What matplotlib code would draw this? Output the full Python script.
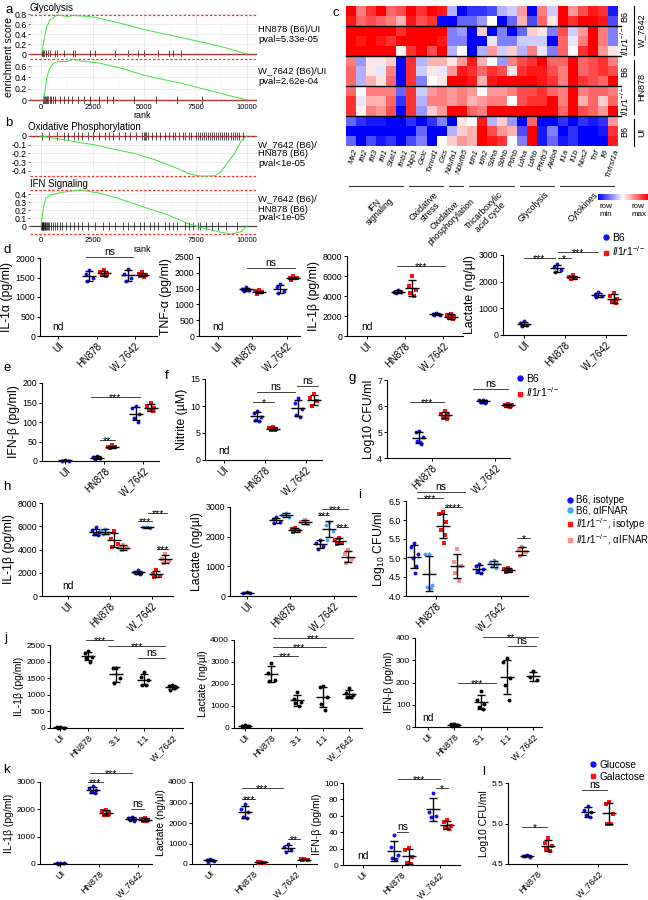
import numpy as np
import matplotlib
matplotlib.use('Agg')
import matplotlib.pyplot as plt
from matplotlib.colors import LinearSegmentedColormap
from matplotlib.lines import Line2D

plt.rcParams.update({
    'font.family': ['Liberation Sans', 'DejaVu Sans'],
    'mathtext.fontset': 'custom',
    'mathtext.rm': 'Liberation Sans',
    'mathtext.it': 'Liberation Sans:italic',
    'mathtext.bf': 'Liberation Sans:bold',
    'font.size': 6,
    'axes.linewidth': 0.8,
    'xtick.labelsize': 5.5, 'ytick.labelsize': 5.5,
    'xtick.major.size': 2, 'ytick.major.size': 2,
    'xtick.major.width': 0.7, 'ytick.major.width': 0.7,
    'xtick.major.pad': 1.5, 'ytick.major.pad': 1.5,
})

# ---------------- DATA ----------------
# GSEA running enrichment scores (a, b)
gly_hn_rank = [0, 40, 120, 200, 275, 350, 430, 600, 760, 1000, 1250, 1570, 2000, 2540, 3000, 4000, 5000, 6000, 7000, 8000, 9000, 10000]
gly_hn_es = [0, 0.02, 0.22, 0.40, 0.55, 0.60, 0.68, 0.72, 0.78, 0.77, 0.75, 0.77, 0.76, 0.74, 0.70, 0.60, 0.49, 0.40, 0.31, 0.22, 0.12, 0]
gly_hn_hits = [60, 120, 150, 250, 350, 450, 700, 800, 1100, 1550, 1650, 2400, 2600, 3600, 4200, 4700, 5000, 5700, 6200, 6400, 6800]
gly_w_rank = [0, 120, 200, 275, 350, 430, 600, 840, 1250, 1570, 1900, 2400, 2860, 4000, 4970, 6100, 7000, 7720, 9340, 10000]
gly_w_es = [0, 0.01, 0.18, 0.38, 0.48, 0.56, 0.65, 0.68, 0.68, 0.72, 0.69, 0.67, 0.65, 0.55, 0.44, 0.35, 0.28, 0.21, 0.06, 0]
gly_w_hits = [100, 150, 200, 250, 300, 350, 420, 500, 600, 700, 900, 1100, 1300, 1500, 1800, 2100, 2400, 2800, 3200, 3500, 4500, 5600, 6600, 7800]
oxp_rank = [0, 500, 1260, 2000, 2560, 3500, 4520, 5500, 6150, 6800, 7130, 7500, 7780, 8100, 8430, 8700, 9080, 9400, 9730, 10000]
oxp_es = [0, -0.02, -0.05, -0.08, -0.10, -0.15, -0.20, -0.27, -0.33, -0.39, -0.43, -0.45, -0.46, -0.46, -0.455, -0.42, -0.30, -0.20, -0.05, 0]
oxp_hits = [50, 400, 800, 1100, 1300, 1600, 1800, 2000, 2300, 2500, 2800, 3100, 3300, 3500, 3800, 4100, 4300, 4600, 4900, 5000,
            5050, 5100, 5200, 5400, 5600, 5800, 6000, 6200, 6400, 6500, 6700, 6900, 7000, 7200, 7300, 7500, 7600, 7700, 7800,
            7900, 8000, 8100, 8200, 8300, 8400, 8500, 8600, 8700, 8800, 8900, 9000, 9100, 9200, 9300, 9400, 9500, 9600, 9800]
ifn_rank = [0, 80, 160, 240, 480, 800, 1250, 1900, 2860, 3700, 4500, 5300, 6150, 7130, 7780, 8750, 9240, 9730, 10000]
ifn_es = [0, 0.16, 0.28, 0.35, 0.39, 0.41, 0.43, 0.45, 0.41, 0.35, 0.28, 0.21, 0.14, 0.03, -0.02, -0.08, -0.10, -0.07, 0]
ifn_hits = [20, 40, 60, 80, 100, 120, 150, 180, 200, 250, 300, 350, 400, 500, 600, 700, 800, 900, 1000, 1200, 1400, 1600,
            1800, 2000, 2300, 2600, 3000, 3300, 3600, 4000, 4200, 4500, 4800, 5000, 5300, 5500, 5700, 6000, 6200, 6400,
            6600, 7000, 7200, 7400, 7600, 7700, 8000, 8300, 8600, 9000, 9500]

# Heatmap (c)
genes = ['Mx2', 'Ifit2', 'Ifit3', 'Ifit1', 'Stat1', 'Ifnb1', 'Nqo1', 'Gclc', 'Txnrd1', 'Gss', 'Ndufa1', 'Ndufb5',
         'Idh1', 'Idh2', 'Sdha', 'Sdhb', 'Pdhb', 'Ldha', 'Ldhb', 'Pfkfb3', 'Aldoa', 'Il1a', 'Il1b', 'Nos2', 'Tnf', 'Il6', 'Tnfrsf1a']
gene_groups = ['IFN\nsignaling', 'Oxidative\nstress', 'Oxidative\nphosphorylation', 'Tricarboxylic\nacid cycle', 'Glycolysis', 'Cytokines']
gene_group_sizes = [6, 4, 2, 5, 4, 6]
heat_w_b6 = [
    [1, .5, .8, 1, .6, .7, 1, .8, 1, .9, -.3, -1, -.8, -.8, -.7, -.3, -.2, .4, -1, .5, -.2, 1, .4, .7, .9, .8, -.9],
    [.9, .6, .7, .6, .5, .3, .9, .7, .8, -1, -1, -.6, -.6, -.4, 0, -1, -.6, .3, -.7, .6, .1, 1, .8, 1, 1, .9, -.7]]
heat_w_ko = [
    [1, 1, 1, 1, 1, .8, 1, 1, 1, 1, -.5, -.4, -1, .2, -1, -.5, -1, -.6, .2, .1, -.5, .7, -.2, .4, 1, .5, -.5],
    [1, .9, 1, .9, .8, 1, 1, 1, 1, .9, -.5, -.5, -1, -1, -.1, -.5, -.5, -.2, -.2, -.2, -1, .6, -.1, .5, 1, .5, -.5],
    [1, 1, 1, 1, 1, .05, .8, 1, .7, 1, -.3, 0, -1, -.3, .4, -.2, .2, -.3, .5, -.1, -.5, .6, 0, .8, 1, .4, .1]]
heat_hn_b6 = [
    [.5, -.4, .1, .1, .2, -1, .8, -.3, .3, .3, .1, .4, .9, .3, 0, -.4, .5, .7, .8, 1, .6, .6, 1, .6, .7, .8, .5],
    [.6, -.3, .1, -.1, .5, -1, .8, -.2, .1, -.1, .4, .9, .8, .6, .8, .7, .1, .8, .9, .9, .7, .5, 1, .6, .7, .8, .7],
    [.6, -.3, .3, .1, .6, -1, .8, -.5, 0, .1, 1, 1, .9, .3, .9, 1, 1, 1, 1, .9, .8, .5, 1, .8, .7, .6, 1]]
heat_hn_ko = [
    [.6, 0, .5, .5, .5, -.6, .8, -.2, .4, .5, .4, .5, .4, 0, .4, .4, .5, .7, .7, .8, .6, .5, 1, .5, .6, .6, .5],
    [.8, -.1, .3, .3, .6, -.8, .8, -.3, .5, .5, .4, .5, .3, .4, .5, .5, 0, .7, .8, .8, 1, .5, 1, .3, .6, .2, .6],
    [.8, .05, .5, .4, .7, -1, .8, -.4, .2, .4, 1, 1, .6, .5, 1, 1, 1, 1, 1, 1, 1, .6, 1, .7, .6, .4, 1]]
heat_ui_b6 = [
    [-.6, -.8, -.9, -.9, -1, -1, -.8, -1, -.8, -.5, -1, .1, 0, .9, -.3, .2, -.4, -1, .6, -1, -1, -.8, -1, -.8, -.9, -.8, .4],
    [-1, -1, -1, -1, -1, -1, -1, -.6, -1, -1, -.3, .2, .3, 1, .7, .4, .3, -.7, 1, -.9, -.5, -1, -.8, -1, -1, -.9, .8],
    [-.6, -1, -.7, -.9, -.8, -1, -.7, -.5, -1, 0, .2, .4, .3, 1, .9, .8, 0, -.5, 1, -.9, -.6, -.9, -.8, -1, -1, -1, .9]]

cats3 = ['UI', 'HN878', 'W_7642']
cats2 = ['HN878', 'W_7642']
cats5 = ['UI', 'HN878', '3:1', '1:1', 'W_7642']

# d
d_il1a_b6 = [None, [1700, 1600, 1500, 1400], [1720, 1600, 1500, 1400]]
d_il1a_ko = [None, [1680, 1650, 1600, 1560, 1540], [1640, 1600, 1570, 1550, 1520]]
d_tnf_b6 = [None, [1550, 1480, 1450, 1420], [1650, 1550, 1420, 1360]]
d_tnf_ko = [None, [1440, 1410, 1390, 1330], [1890, 1850, 1820, 1780]]
d_il1b_b6 = [None, [4600, 4450, 4400, 4300], [2300, 2200, 2150, 2100]]
d_il1b_ko = [None, [6000, 5000, 4600, 4300, 4000], [2200, 2100, 1950, 1800, 1700]]
d_lac_b6 = [[520, 450, 380, 350], [2650, 2550, 2450, 2350], [1600, 1500, 1450, 1420]]
d_lac_ko = [None, [2250, 2180, 2130, 2100], [1560, 1480, 1350, 1250, 1200]]
# e, f, g
e_ifn_b6 = [[3, 1, 0], [12, 10, 7, 5], [140, 135, 120, 110, 100]]
e_ifn_ko = [None, [40, 37, 35, 33], [150, 140, 135, 130, 128]]
f_nit_b6 = [None, [9.0, 8.7, 8.0, 7.5, 7.2], [11.5, 10.5, 9.5, 8.3, 8.0]]
f_nit_ko = [None, [6.2, 6.0, 5.8, 5.6, 5.5], [12.2, 11.5, 11.0, 10.0]]
g_cfu_b6 = [[5.05, 5.0, 4.8, 4.65, 4.55, 4.6], [6.25, 6.22, 6.18, 6.15, 6.12]]
g_cfu_ko = [[5.8, 5.7, 5.65, 5.55, 5.5], [6.08, 6.05, 6.03, 6.0, 5.95]]
# h, i
h_il1b_b6iso = [None, [5900, 5700, 5500, 5300, 5250], [2250, 2100, 2000, 1950, 1900]]
h_il1b_b6ifnar = [None, [5800, 5600, 5400, 5300], [5950, 5900, 5850]]
h_il1b_koiso = [None, [5600, 4900, 4500, 4200], [2200, 1900, 1750, 1600]]
h_il1b_koifnar = [None, [4400, 4200, 4100, 3950], [3600, 3200, 3000, 2800]]
h_lac_b6iso = [[120, 100, 90], [2650, 2600, 2500, 2450], [1900, 1800, 1700, 1600]]
h_lac_b6ifnar = [None, [2800, 2720, 2650], [2500, 2400, 2200, 1900]]
h_lac_koiso = [None, [2300, 2250, 2200, 2150], [1950, 1900, 1800, 1750]]
h_lac_koifnar = [None, [2550, 2480, 2420], [1550, 1400, 1250, 1100]]
i_b6iso = [[5.4, 5.3, 5.1, 5.0, 4.8, 4.6], [4.85, 4.8, 4.7, 4.65, 4.6]]
i_b6ifnar = [[5.1, 5.1, 4.3, 4.25, 4.2], [4.95, 4.9, 4.85, 4.8, 4.75]]
i_koiso = [[6.2, 6.15, 5.95, 5.75, 5.6, 5.4], [4.75, 4.7, 4.65, 4.62]]
i_koifnar = [[5.25, 4.9, 4.8, 4.6, 4.4], [5.3, 5.25, 5.15, 5.05]]
# j
j_il1b = [[30, 20, 10, 5], [2320, 2250, 2150, 2100, 2000], [1820, 1800, 1500, 1350], [1700, 1550, 1450, 1300, 1300], [1300, 1280, 1250, 1150, 1200]]
j_lac = [[120, 100, 80, 60], [2950, 2500, 2200, 2150], [1650, 1300, 1200, 1150, 1000], [1900, 1850, 1400, 1100, 800], [1800, 1600, 1500, 1400, 1400]]
j_ifn = [None, [15, 12, 8, 5, 10], [160, 120, 105, 90, 80], [310, 290, 220, 190, 120], [250, 225, 210]]
# k, l
k_il1b_glc = [[40, 30, 20, 10], [2850, 2780, 2700, 2650, 2600], [1720, 1680, 1650, 1620, 1580]]
k_il1b_gal = [None, [1980, 1950, 1850, 1800, 1780], [1700, 1660, 1620, 1580, 1560]]
k_lac_glc = [[250, 200, 150, 120], [2950, 2700, 2550, 2300, 2250], [980, 850, 700, 600]]
k_lac_gal = [None, [120, 90, 60, 50], [260, 220, 200, 180]]
k_ifn_glc = [None, [36, 22, 12, 8, 7], [88, 65, 60, 58]]
k_ifn_gal = [None, [21, 18, 10, 3, 1], [55, 52, 48, 45, 44]]
l_glc = [[4.61, 4.6, 4.59, 4.6, 4.6], [5.22, 5.17, 5.14, 5.1, 5.08]]
l_gal = [[4.82, 4.76, 4.72, 4.68, 4.66], [5.27, 5.24, 5.12, 5.0, 5.0]]

# ---------------- STYLE ----------------
BLUE, RED, LBLUE, PINK = '#1010FF', '#FF1010', '#4AA3FF', '#FF8A8A'
KO = r'$\mathit{Il1r1}^{-/-}$'
W, H = 648, 900
JIT = [0, -1, 1, -0.55, 0.55, 0.25, -0.25]
BIG = dict(yl=8.8, xt=7, yt=6.3)
SMALL = dict(yl=7.5, xt=6.5, yt=6)

fig = plt.figure(figsize=(W / 100, H / 100), dpi=100)


def add_ax(l, t, r, b):
    return fig.add_axes([l / W, 1 - b / H, (r - l) / W, (b - t) / H])


def ftext(x, y, s, **kw):
    return fig.text(x / W, 1 - y / H, s, **kw)


def fline(xs, ys, **kw):
    fig.add_artist(Line2D([x / W for x in xs], [1 - y / H for y in ys], transform=fig.transFigure, **kw))


# ---------------- GSEA ----------------
def gsea(rect, rank, es, hits, ylim, yticks, xlabels=None):
    ax = add_ax(*rect)
    ax.set_xlim(-534, 10485)
    ax.set_ylim(*ylim)
    for s in ax.spines.values():
        s.set_visible(False)
    ax.set_xticks([0, 2500, 5000, 7500, 10000])
    ax.set_xticks([1250, 3750, 6250, 8750], minor=True)
    ax.set_yticks(yticks)
    ax.set_yticklabels([f'{v:g}' for v in yticks])
    ax.grid(True, which='major', color='#E6E6E6', lw=0.5)
    ax.xaxis.grid(True, which='minor', color='#F0F0F0', lw=0.4)
    ax.set_axisbelow(True)
    ax.tick_params(axis='x', which='both', length=0, labelsize=5.5, pad=1)
    ax.tick_params(axis='y', length=1.5, color='#666666', labelsize=6.3, pad=1)
    if xlabels is None:
        ax.set_xticklabels([])
    else:
        ax.set_xticklabels(xlabels)
    ax.axhline(0, color='#444444', lw=0.9, zorder=2)
    ax.plot(hits, np.zeros(len(hits)), ls='none', marker='|', ms=5.5, mew=0.5, color='#111111', zorder=3)
    e = np.asarray(es)
    for v in (e.max(), e.min()):
        ax.axhline(v, color='#FF3030', ls=(0, (2, 1.5)), lw=0.9, zorder=3, clip_on=False)
    ax.plot(rank, es, color='#40E040', lw=0.7, zorder=4)
    return ax


gsea((30, 10, 257, 57), gly_hn_rank, gly_hn_es, gly_hn_hits, (-0.06, 0.88), [0, 0.2, 0.4, 0.6, 0.8])
gsea((30, 57, 257, 103), gly_w_rank, gly_w_es, gly_w_hits, (-0.053, 0.76), [0, 0.2, 0.4, 0.6],
     ['0', '2500', '5000', '7500', '10000'])
gsea((30, 131, 257, 179), oxp_rank, oxp_es, oxp_hits, (-0.494, 0.057), [-0.4, -0.3, -0.2, -0.1, 0])
gsea((30, 188, 257, 236), ifn_rank, ifn_es, ifn_hits, (-0.125, 0.475), [0, 0.1, 0.2, 0.3, 0.4],
     ['0', '2500', '', '7500', '10000'])
ftext(142, 116, 'rank', ha='center', va='center', fontsize=6.5)
ftext(142, 250, 'rank', ha='center', va='center', fontsize=6.5)
ftext(9, 57, 'enrichment score', rotation=90, ha='center', va='center', fontsize=7.5)
ftext(30, 8, 'Glycolysis', ha='left', va='center', fontsize=7)
ftext(28, 127, 'Oxidative Phosphorylation', ha='left', va='center', fontsize=7)
ftext(30, 184, 'IFN Signaling', ha='left', va='center', fontsize=7)
for y, s in [(30, 'HN878 (B6)/UI'), (40, 'pval=5.33e-05'), (72, 'W_7642 (B6)/UI'), (82, 'pval=2.62e-04'),
             (145, 'W_7642 (B6)/'), (154, 'HN878 (B6)'), (163, 'pval<1e-05'),
             (200, 'W_7642 (B6)/'), (209, 'HN878 (B6)'), (218, 'pval<1e-05')]:
    ftext(258, y, s, ha='left', va='center', fontsize=6.8)

# ---------------- HEATMAP ----------------
heat = np.array(heat_w_b6 + heat_w_ko + heat_hn_b6 + heat_hn_ko + heat_ui_b6)
cmap = LinearSegmentedColormap.from_list('bwr_', ['#0000FF', '#FFFFFF', '#FF0000'])
axh = add_ax(346, 6, 617, 146)
axh.imshow(heat, cmap=cmap, vmin=-1, vmax=1, aspect='auto', interpolation='nearest')
axh.set_xticks([])
axh.set_yticks([])
for s in axh.spines.values():
    s.set_visible(False)
for yb in [1.5, 4.5, 7.5, 10.5]:
    axh.axhline(yb, xmin=0, xmax=1.016, color='k', lw=1.0, clip_on=False)
colw = 271 / len(genes)
for i, g in enumerate(genes):
    ftext(346 + colw * (i + 0.5) + 2, 148, g, rotation=72, ha='right', va='top', rotation_mode='anchor',
          fontsize=5.8, style='italic')
start = 0
for name, n in zip(gene_groups, gene_group_sizes):
    x0 = 346 + colw * start + 3
    x1 = 346 + colw * (start + n) - 3
    fline([x0, x1], [186, 186], color='#333333', lw=0.8)
    ftext((x0 + x1) / 2 + 7, 190, name, rotation=45, ha='right', va='top', rotation_mode='anchor',
          fontsize=6.3, multialignment='center', linespacing=1.0)
    start += n
for yc, s in [(16, 'B6'), (41, KO), (71, 'B6'), (101, KO), (131, 'B6')]:
    ftext(625, yc, s, rotation=90, ha='center', va='center', fontsize=6.5)
for (y0, y1), s in [((6, 55), 'W_7642'), ((60, 114), 'HN878'), ((119, 146), 'UI')]:
    fline([634, 634], [y0, y1], color='k', lw=0.8)
    ftext(642, (y0 + y1) / 2, s, rotation=90, ha='center', va='center', fontsize=6.5)
axc = add_ax(598, 194, 648, 200)
axc.imshow(np.linspace(-1, 1, 100).reshape(1, -1), cmap=cmap, aspect='auto')
axc.set_axis_off()
ftext(600, 203, 'row\nmin', ha='left', va='top', fontsize=5.8, linespacing=1.1)
ftext(632, 203, 'row\nmax', ha='left', va='top', fontsize=5.8, linespacing=1.1)


# ---------------- DOT PANELS ----------------
def draw_group(ax, x, vals, color, marker):
    bb = ax.get_position()
    x0, x1 = ax.get_xlim()
    u = (x1 - x0) / (bb.width * W)
    v = np.asarray(vals, float)
    offs = np.array(JIT[:len(v)]) * 3.5 * u
    ax.scatter(x + offs, v, s=8 if marker == 'o' else 7, color=color, marker=marker, linewidths=0,
               zorder=3, clip_on=False)
    m = v.mean()
    sd = v.std(ddof=1) if len(v) > 1 else 0
    kw = dict(color='k', lw=1.0, zorder=4, clip_on=False, solid_capstyle='butt')
    ax.plot([x - 7 * u, x + 7 * u], [m, m], **kw)
    ax.plot([x, x], [m - sd, m + sd], **kw)
    ax.plot([x - 4 * u, x + 4 * u], [m + sd] * 2, **kw)
    ax.plot([x - 4 * u, x + 4 * u], [m - sd] * 2, **kw)


def sig(ax, x1, x2, y, txt):
    ax.plot([x1, x2], [y, y], color='#222222', lw=0.6, clip_on=False)
    if txt == 'ns':
        ax.annotate(txt, ((x1 + x2) / 2, y), xytext=(0, 0.2), textcoords='offset points',
                    ha='center', va='bottom', fontsize=7.5, annotation_clip=False)
    else:
        ax.annotate(txt, ((x1 + x2) / 2, y), xytext=(0, -2.9), textcoords='offset points',
                    ha='center', va='baseline', fontsize=7.5, annotation_clip=False)


def dot_panel(rect, xlim, ylim, yticks, cats, ylabel, series, offsets, sigs=(), nd=(), ytl=None, fs=BIG):
    ax = add_ax(*rect)
    ax.set_xlim(*xlim)
    ax.set_ylim(*ylim)
    ax.spines['top'].set_visible(False)
    ax.spines['right'].set_visible(False)
    ax.set_yticks(yticks)
    ax.set_yticklabels(ytl if ytl else [f'{v:g}' for v in yticks])
    ax.tick_params(axis='y', labelsize=fs['yt'])
    ax.set_xticks(range(len(cats)))
    ax.set_xticklabels(cats, rotation=45, ha='right', rotation_mode='anchor', fontsize=fs['xt'])
    ax.set_ylabel(ylabel, fontsize=fs['yl'], labelpad=1.5)
    for c in range(len(cats)):
        present = [i for i, s in enumerate(series) if s[0][c]]
        for i in present:
            vals, color, marker = series[i]
            off = offsets[i] if len(present) == len(series) else 0
            draw_group(ax, c + off, vals[c], color, marker)
    for x1, x2, y, t in sigs:
        sig(ax, x1, x2, y, t)
    for c in nd:
        ax.text(c, ylim[0] + 0.05 * (ylim[1] - ylim[0]), 'nd', ha='center', va='bottom', fontsize=7.5)
    return ax


O2 = [-0.19, 0.19]
O4 = [-0.33, -0.11, 0.11, 0.33]

# d
dot_panel((40, 258, 157, 336), (-0.47, 2.57), (0, 2000), [0, 500, 1000, 1500, 2000], cats3, 'IL-1α (pg/ml)',
          [(d_il1a_b6, BLUE, 'o'), (d_il1a_ko, RED, 's')], O2, [(0.73, 1.95, 2030, 'ns')], nd=[0])
dot_panel((199, 257, 300, 336), (-0.54, 2.39), (0, 2500), [0, 500, 1000, 1500, 2000, 2500], cats3, 'TNF-α (pg/ml)',
          [(d_tnf_b6, BLUE, 'o'), (d_tnf_ko, RED, 's')], O2, [(0.86, 2.25, 2150, 'ns')], nd=[0])
dot_panel((347, 256, 463, 336), (-0.51, 2.51), (0, 8000), [0, 2000, 4000, 6000, 8000], cats3, 'IL-1β (pg/ml)',
          [(d_il1b_b6, BLUE, 'o'), (d_il1b_ko, RED, 's')], O2, [(0.79, 2.04, 7000, '***')], nd=[0])
dot_panel((503, 255, 626, 335), (-0.51, 2.49), (0, 3000), [0, 1000, 2000, 3000], cats3, 'Lactate (ng/µl)',
          [(d_lac_b6, BLUE, 'o'), (d_lac_ko, RED, 's')], O2,
          [(0, 0.75, 2880, '***'), (0.82, 1.8, 3110, '***'), (0.82, 1.15, 2880, '*')])
# e f g
dot_panel((42, 383, 159, 461), (-0.6, 2.4), (0, 200), [0, 50, 100, 150, 200], cats3, 'IFN-β (pg/ml)',
          [(e_ifn_b6, BLUE, 'o'), (e_ifn_ko, RED, 's')], O2, [(0.65, 1.9, 164, '***'), (0.88, 1.27, 54, '**')])
dot_panel((205, 379, 322, 460), (-0.46, 2.39), (0, 15), [0, 5, 10, 15], cats3, 'Nitrite (µM)',
          [(f_nit_b6, BLUE, 'o'), (f_nit_ko, RED, 's')], O2,
          [(0.71, 1.22, 10.7, '*'), (0.8, 1.73, 12.6, 'ns'), (1.78, 2.29, 13.7, 'ns')], nd=[0])
dot_panel((387, 380, 510, 458), (-0.71, 1.23), (4, 7), [4, 5, 6, 7], cats2, 'Log10 CFU/ml',
          [(g_cfu_b6, BLUE, 'o'), (g_cfu_ko, RED, 's')], [-0.2, 0.2],
          [(-0.35, 0.19, 6.15, '***'), (0.65, 1.2, 6.65, 'ns')])
# h i
ser_h1 = [(h_il1b_b6iso, BLUE, 'o'), (h_il1b_b6ifnar, LBLUE, 'o'), (h_il1b_koiso, RED, 's'), (h_il1b_koifnar, PINK, 's')]
dot_panel((42, 503, 173, 596), (-0.61, 2.51), (0, 8000), [0, 2000, 4000, 6000, 8000], cats3, 'IL-1β (pg/ml)',
          ser_h1, O4, [(1.68, 2.01, 6450, '***'), (1.92, 2.37, 7140, '***'), (2.13, 2.39, 4040, '***')], nd=[0])
ser_h2 = [(h_lac_b6iso, BLUE, 'o'), (h_lac_b6ifnar, LBLUE, 'o'), (h_lac_koiso, RED, 's'), (h_lac_koifnar, PINK, 's')]
dot_panel((230, 507, 356, 596), (-0.39, 2.51), (0, 3000), [0, 1000, 2000, 3000], cats3, 'Lactate (ng/µl)',
          ser_h2, O4, [(1.63, 1.9, 2730, '***'), (1.72, 2.32, 2930, '***'), (2.07, 2.32, 2320, '***')])
ser_i = [(i_b6iso, BLUE, 'o'), (i_b6ifnar, LBLUE, 'o'), (i_koiso, RED, 's'), (i_koifnar, PINK, 's')]
dot_panel((406, 501, 528, 596), (-0.46, 1.42), (4, 6.5), [4.0, 4.5, 5.0, 5.5, 6.0, 6.5], cats2, 'Log$_{10}$ CFU/ml',
          ser_i, O4, [(-0.29, 0.45, 6.74, 'ns'), (-0.29, 0.11, 6.58, '***'), (0.14, 0.4, 6.34, '****'),
                      (1.25, 1.45, 5.53, '*')], ytl=['4.0', '4.5', '5.0', '5.5', '6.0', '6.5'])
# j
dot_panel((50, 645, 183, 728), (-0.36, 4.39), (0, 2500), [0, 500, 1000, 1500, 2000, 2500], cats5, 'IL-1β (pg/ml)',
          [(j_il1b, 'k', 'o')], [0], [(0.93, 1.89, 2650, '***'), (1.71, 3.75, 2470, '***'), (2.79, 3.75, 2110, 'ns')],
          fs=SMALL)
dot_panel((234, 640, 362, 728), (-0.43, 4.5), (0, 4000), [0, 1000, 2000, 3000, 4000], cats5, 'Lactate (ng/µl)',
          [(j_lac, 'k', 'o')], [0], [(1.06, 2.04, 3270, '***'), (1.06, 3.1, 3680, '***'), (1.06, 4.16, 4090, '***')],
          fs=SMALL)
dot_panel((415, 638, 542, 727), (-0.49, 4.33), (0, 400), [0, 100, 200, 300, 400], cats5, 'IFN-β (pg/ml)',
          [(j_ifn, 'k', 'o')], [0], [(1.14, 2.59, 197, '***'), (2.09, 4.18, 404, '**'), (3.04, 4.1, 363, 'ns')],
          nd=[0], fs=SMALL)
# k l
dot_panel((40, 782, 152, 864), (-0.52, 2.35), (0, 3000), [0, 1000, 2000, 3000], cats3, 'IL-1β (pg/ml)',
          [(k_il1b_glc, BLUE, 'o'), (k_il1b_gal, RED, 's')], [-0.17, 0.17],
          [(0.75, 1.84, 3330, '***'), (0.7, 1.1, 3000, '***'), (1.81, 2.14, 2010, 'ns')], fs=SMALL)
dot_panel((192, 782, 317, 864), (-0.42, 2.49), (0, 4000), [0, 1000, 2000, 3000, 4000], cats3, 'Lactate (ng/µl)',
          [(k_lac_glc, BLUE, 'o'), (k_lac_gal, RED, 's')], [-0.19, 0.19],
          [(0.74, 1.7, 3700, '***'), (0.74, 1.05, 3170, '***'), (1.81, 2.09, 1220, '**')], fs=SMALL)
dot_panel((343, 783, 460, 865), (-0.52, 2.52), (0, 100), [0, 20, 40, 60, 80, 100], cats3, 'IFN-β (pg/ml)',
          [(k_ifn_glc, BLUE, 'o'), (k_ifn_gal, RED, 's')], [-0.19, 0.19],
          [(0.91, 2.0, 105, '***'), (1.9, 2.2, 94, '*'), (0.88, 1.17, 40, 'ns')], nd=[0], fs=SMALL)
dot_panel((508, 783, 627, 864), (-0.48, 1.47), (4.5, 5.5), [4.5, 5.0, 5.5], cats2, 'Log10 CFU/ml',
          [(l_glc, BLUE, 'o'), (l_gal, RED, 's')], [-0.17, 0.18],
          [(-0.25, 0.16, 4.96, '*'), (0.73, 1.14, 5.41, 'ns')], ytl=['4.5', '5.0', '5.5'], fs=SMALL)


# ---------------- LEGENDS ----------------
def flegend(x, y, items, fs=7, sp=0.15):
    handles = [Line2D([], [], ls='none', marker=m, color=c, markersize=3.6 if m == 'o' else 3.3) for c, m, _ in items]
    fig.legend(handles, [t for _, _, t in items], loc='upper left', bbox_to_anchor=(x / W, 1 - y / H),
               bbox_transform=fig.transFigure, frameon=False, fontsize=fs, handlelength=0.6,
               handletextpad=0.3, labelspacing=sp, borderpad=0, borderaxespad=0)


flegend(603, 233, [(BLUE, 'o', 'B6'), (RED, 's', KO)], fs=7.5)
flegend(517, 374, [(BLUE, 'o', 'B6'), (RED, 's', KO)], fs=7.5)
flegend(567, 495, [(BLUE, 'o', 'B6, isotype'), (LBLUE, 'o', 'B6, αIFNAR'), (RED, 's', KO + ', isotype'),
                   (PINK, 's', KO + ', αIFNAR')], fs=7, sp=0.05)
flegend(590, 760, [(BLUE, 'o', 'Glucose'), (RED, 's', 'Galactose')], fs=7.3)

# panel letters
for x, y, s in [(5, 4, 'a'), (5, 117, 'b'), (333, 7, 'c'), (4, 244, 'd'), (4, 362, 'e'), (165, 370, 'f'),
                (349, 372, 'g'), (3, 481, 'h'), (358, 489, 'i'), (4, 632, 'j'), (3, 764, 'k'), (482, 766, 'l')]:
    ftext(x, y, s, ha='left', va='top', fontsize=9.5)

fig.savefig('out.png', dpi=100)
